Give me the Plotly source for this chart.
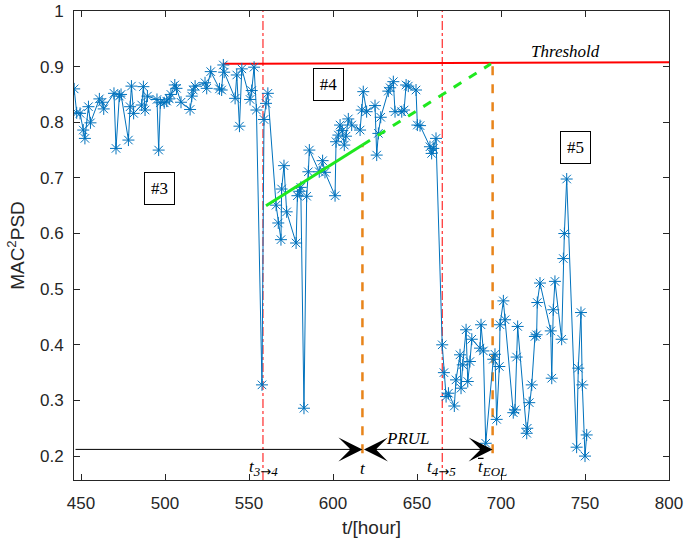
import plotly.graph_objects as go

# ---------------- data ----------------
t_hours = [
    445.9, 447.4, 449.4, 451.3, 452.3, 454.4, 455.6, 460.9, 462.5, 463.5,
    469.6, 470.8, 472.8, 473.8, 478.2, 479.2, 480.0, 481.3, 486.1, 487.1,
    488.1, 489.5, 495.2, 496.2, 497.2, 499.5, 501.0, 502.5, 503.5, 505.8,
    506.8, 509.5, 514.9, 515.9, 516.8, 517.9, 523.8, 524.8, 527.2, 532.4,
    533.7, 534.7, 535.2, 541.7, 542.7, 544.3, 545.7, 550.6, 551.6, 553.0,
    554.4, 557.7,
    558.9, 560.1, 561.2, 566.1, 567.4, 569.0, 569.4, 570.8, 572.4, 578.0,
    578.8, 580.0, 580.8, 582.7, 584.3, 585.3, 585.9, 591.8, 593.8, 595.2,
    601.2, 601.8, 603.2, 604.2, 605.5, 606.7, 607.7, 609.1, 611.1, 616.1,
    617.1, 618.0, 620.0, 625.0, 626.0, 627.0, 628.4, 632.9, 634.0, 635.9,
    636.9, 640.9, 642.3, 643.5, 644.8, 649.4, 650.2, 651.8, 657.7, 658.7,
    659.7, 661.3,
    665.0, 666.0, 667.3, 668.7, 672.2, 673.2, 675.6, 676.2, 677.2, 679.2,
    680.2, 681.5, 682.6, 687.5, 688.1, 689.5, 690.9, 695.4, 696.4, 697.4,
    699.0, 699.4, 701.4, 702.4, 707.3, 708.3, 709.3, 709.9, 715.3, 715.6,
    716.8, 718.3, 720.2, 721.2, 721.6, 723.2, 729.6, 730.2, 731.1, 732.1,
    736.1, 737.1, 737.7, 739.1, 745.0, 746.0, 747.6, 748.4, 750.0, 751.0,
]
mac2psd = [
    0.860, 0.817, 0.816, 0.786, 0.771, 0.828, 0.799, 0.842, 0.836, 0.824,
    0.852, 0.753, 0.847, 0.850, 0.768, 0.828, 0.865, 0.816, 0.831, 0.864,
    0.822, 0.847, 0.841, 0.750, 0.835, 0.835, 0.838, 0.842, 0.850, 0.867,
    0.861, 0.836, 0.823, 0.847, 0.858, 0.865, 0.871, 0.861, 0.891, 0.860,
    0.858, 0.903, 0.890, 0.843, 0.885, 0.793, 0.896, 0.841, 0.857, 0.899,
    0.822, 0.328,
    0.805, 0.834, 0.852, 0.651, 0.619, 0.589, 0.680, 0.722, 0.639, 0.583,
    0.668, 0.676, 0.683, 0.286, 0.667, 0.711, 0.750, 0.711, 0.731, 0.710,
    0.668, 0.765, 0.777, 0.795, 0.785, 0.759, 0.775, 0.806, 0.795, 0.786,
    0.822, 0.855, 0.819, 0.830, 0.741, 0.780, 0.809, 0.856, 0.862, 0.873,
    0.819, 0.819, 0.822, 0.867, 0.865, 0.858, 0.795, 0.794, 0.756, 0.744,
    0.753, 0.771,
    0.400, 0.350, 0.307, 0.313, 0.290, 0.337, 0.382, 0.322, 0.364, 0.427,
    0.334, 0.370, 0.410, 0.394, 0.436, 0.389, 0.223, 0.374, 0.383, 0.266,
    0.361, 0.436, 0.479, 0.445, 0.278, 0.283, 0.378, 0.433, 0.241, 0.250,
    0.296, 0.328, 0.415, 0.418, 0.476, 0.511, 0.425, 0.340, 0.463, 0.514,
    0.410, 0.555, 0.600, 0.698, 0.216, 0.358, 0.458, 0.328, 0.200, 0.238,
]

threshold_t = [534.3, 800.0]
threshold_y = [0.905, 0.908]

trend_solid_t = [560.1, 617.5]
trend_solid_y = [0.650, 0.759]
trend_dash_t = [617.5, 694.0]
trend_dash_y = [0.759, 0.905]

t_34 = 558.3
t_45 = 665.0
t_now = 617.5
t_eol = 695.0
t_now_top = 0.759
t_eol_top = 0.905
orange_bottom = 0.205
arrow_y = 0.212
x_min, x_max = 445.8, 800.0
y_min, y_max = 0.157, 1.0

x_ticks = [450, 500, 550, 600, 650, 700, 750, 800]
y_ticks = [0.2, 0.3, 0.4, 0.5, 0.6, 0.7, 0.8, 0.9, 1.0]
y_tick_text = ["0.2", "0.3", "0.4", "0.5", "0.6", "0.7", "0.8", "0.9", "1"]

stage_labels = ["#3", "#4", "#5"]
stage_t = [496.9, 597.3, 744.6]
stage_y = [0.681, 0.867, 0.755]

# ---------------- figure ----------------
BLUE = "#0072BD"
ORANGE = "#E8841A"
GREEN = "#1FE81F"
SERIF = "Liberation Serif, Times New Roman, serif"
SANS = "Liberation Sans, Arial, sans-serif"
ARROW = '<span style="font-family:DejaVu Sans">→</span>'

fig = go.Figure()

# red vertical dash-dot lines (stage transitions)
for tv in [t_34, t_45]:
    fig.add_trace(go.Scatter(x=[tv, tv], y=[y_min, y_max], mode="lines",
                             line=dict(color="red", width=1, dash="dashdot"),
                             hoverinfo="skip", showlegend=False))

# threshold
fig.add_trace(go.Scatter(x=threshold_t, y=threshold_y, mode="lines",
                         line=dict(color="#FF0000", width=2),
                         showlegend=False))

# orange dashed verticals
fig.add_trace(go.Scatter(x=[t_now, t_now], y=[orange_bottom, t_now_top], mode="lines",
                         line=dict(color=ORANGE, width=2.5, dash="dash"),
                         showlegend=False))
fig.add_trace(go.Scatter(x=[t_eol, t_eol], y=[orange_bottom, t_eol_top], mode="lines",
                         line=dict(color=ORANGE, width=2.5, dash="dash"),
                         showlegend=False))

# data series
fig.add_trace(go.Scatter(x=t_hours, y=mac2psd, mode="lines+markers",
                         line=dict(color=BLUE, width=1),
                         marker=dict(symbol="asterisk-open", size=10,
                                     line=dict(color=BLUE, width=1)),
                         showlegend=False))

# green trend line
fig.add_trace(go.Scatter(x=trend_solid_t, y=trend_solid_y, mode="lines",
                         line=dict(color=GREEN, width=3), showlegend=False))
fig.add_trace(go.Scatter(x=trend_dash_t, y=trend_dash_y, mode="lines",
                         line=dict(color=GREEN, width=3, dash="dash"),
                         showlegend=False))

annotations = []
# arrows
annotations.append(dict(x=t_now, y=arrow_y, ax=x_min, ay=arrow_y,
                        xref="x", yref="y", axref="x", ayref="y", text="",
                        showarrow=True, arrowhead=3, arrowsize=4, arrowwidth=1,
                        arrowcolor="black", standoff=0))
annotations.append(dict(x=t_eol, y=arrow_y, ax=t_now, ay=arrow_y,
                        xref="x", yref="y", axref="x", ayref="y", text="",
                        showarrow=True, arrowhead=3, arrowsize=4, arrowwidth=1,
                        arrowside="end+start", startarrowhead=3, startarrowsize=4,
                        arrowcolor="black", standoff=0, startstandoff=0))
# bar over t (t-bar EOL)
annotations.append(dict(x=689.6, y=0.196, ax=685.4, ay=0.196,
                        xref="x", yref="y", axref="x", ayref="y", text="",
                        showarrow=True, arrowhead=0, arrowwidth=1.2,
                        arrowcolor="black", standoff=0, startstandoff=0))

def txt(x, y, s, size=17, **kw):
    d = dict(x=x, y=y, xref="x", yref="y", text=s, showarrow=False,
             font=dict(family=SERIF, size=size, color="black"))
    d.update(kw)
    return d

def sub(s):
    return '<sub><span style="font-size:13px">' + s + '</span></sub>'

annotations.append(txt(558.5, 0.178, "<i>t</i>" + sub("<i>3</i>" + ARROW + "<i>4</i>")))
annotations.append(txt(617.9, 0.178, "<i>t</i>"))
annotations.append(txt(664.5, 0.178, "<i>t</i>" + sub("<i>4</i>" + ARROW + "<i>5</i>")))
annotations.append(txt(695.0, 0.178, "<i>t</i>" + sub("<i>EOL</i>")))
annotations.append(txt(644.6, 0.232, "<i>PRUL</i>"))
annotations.append(txt(738.1, 0.927, "<i>Threshold</i>"))

for lab, tx, ty in zip(stage_labels, stage_t, stage_y):
    annotations.append(txt(tx, ty, lab, bordercolor="black", borderwidth=1,
                           borderpad=4, bgcolor="white", width=21, height=23))

axis_common = dict(showline=True, linecolor="#262626", linewidth=1, mirror="ticks",
                   ticks="inside", ticklen=6, tickcolor="#262626", showgrid=False,
                   zeroline=False, automargin=False,
                   tickfont=dict(family=SANS, size=17, color="#262626"))

fig.update_layout(
    width=685, height=540,
    margin=dict(l=74, r=16, t=11, b=60),
    paper_bgcolor="white", plot_bgcolor="white",
    annotations=annotations,
    xaxis=dict(range=[x_min, x_max], tickvals=x_ticks,
               title=dict(text="t/[hour]", font=dict(family=SANS, size=19, color="#262626"),
                          standoff=8),
               ticklabelstandoff=8, **axis_common),
    yaxis=dict(range=[y_min, y_max], tickvals=y_ticks, ticktext=y_tick_text,
               title=dict(text="MAC<sup>2</sup>PSD", font=dict(family=SANS, size=19, color="#262626"),
                          standoff=10),
               ticklabelstandoff=6, **axis_common),
)

fig.write_html("out.html", config={"displayModeBar": False},
               post_script="document.body.style.margin='0px';document.body.style.overflow='hidden';")
